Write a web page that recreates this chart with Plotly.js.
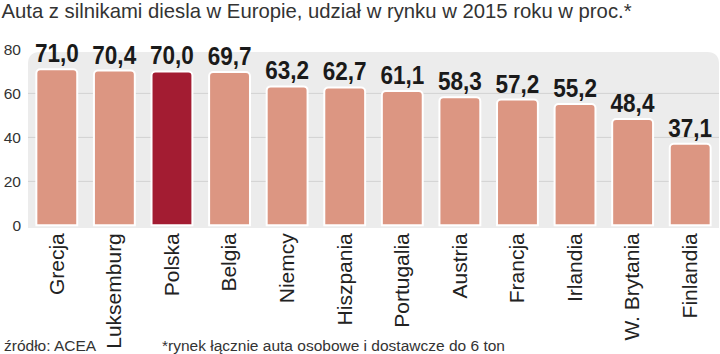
<!DOCTYPE html>
<html>
<head>
<meta charset="utf-8">
<script src="https://cdn.plot.ly/plotly-3.0.1.min.js"></script>
<style>
html,body{margin:0;padding:0;background:#fff;}
#chart{width:720px;height:354px;}
</style>
</head>
<body>
<div id="chart"></div>
<script>
const countries = ["Grecja","Luksemburg","Polska","Belgia","Niemcy","Hiszpania","Portugalia","Austria","Francja","Irlandia","W. Brytania","Finlandia"];
const shares = [71.0,70.4,70.0,69.7,63.2,62.7,61.1,58.3,57.2,55.2,48.4,37.1];
const highlight = "Polska";
const yTicks = [0,20,40,60,80];
const gridValues = [20,40,60];
const titleText = "Auta z silnikami diesla w Europie, udział w rynku w 2015 roku w proc.*";
const sourceText = "źródło: ACEA";
const noteText = "*rynek łącznie auta osobowe i dostawcze do 6 ton";

const baseColor = "#dc9682";
const hiColor = "#a31c32";
const colors = countries.map(c => c === highlight ? hiColor : baseColor);

// layout geometry
const W = 720, H = 354;
const mL = 28, mR = 1, mT = 49, mB = 126;
const pw = W - mL - mR, ph = H - mT - mB;
const yMin = -1.2, yMax = 80.2, bgTop = 78.8;
const pxPerUnit = ph / (yMax - yMin);
const rx = 12 / pw, ry = 12 / pxPerUnit;
const labelSqueeze = 0.85;

const shapes = [{
  type: "path", xref: "paper", yref: "y", layer: "below",
  path: `M 0,${yMin} L 0,${bgTop - ry} Q 0,${bgTop} ${rx},${bgTop} L ${1 - rx},${bgTop} Q 1,${bgTop} 1,${bgTop - ry} L 1,${yMin} Z`,
  fillcolor: "#ececec", line: {width: 0}
}];
gridValues.forEach(v => shapes.push({
  type: "line", xref: "paper", yref: "y", layer: "below",
  x0: 0, x1: 1, y0: v, y1: v, line: {color: "#d2d2d2", width: 1}
}));

const trace = {
  type: "bar",
  x: countries,
  y: shares,
  marker: {color: colors, line: {color: "#ffffff", width: 2}, cornerradius: 4},
  texttemplate: "%{y:.1f}",
  textposition: "outside",
  constraintext: "none",
  cliponaxis: false,
  textfont: {family: "Liberation Sans, Arial, sans-serif", size: 26.5, color: "#1a1a1a", weight: 700},
  hoverinfo: "skip"
};

const layout = {
  width: W, height: H,
  margin: {l: mL, r: mR, t: mT, b: mB, pad: 0},
  paper_bgcolor: "#ffffff",
  plot_bgcolor: "rgba(0,0,0,0)",
  separators: ", ",
  bargap: 0.29,
  showlegend: false,
  title: {
    text: titleText, xref: "container", yref: "container",
    x: 0.002, xanchor: "left", y: 1 - 11 / H, yanchor: "middle",
    font: {family: "Liberation Sans, Arial, sans-serif", size: 20.3, color: "#333333"}
  },
  xaxis: {
    type: "category", tickangle: -90, showgrid: false, zeroline: false, showline: false,
    ticks: "", fixedrange: true,
    tickfont: {family: "Liberation Sans, Arial, sans-serif", size: 21, color: "#222222"}
  },
  yaxis: {
    range: [yMin, yMax], tickvals: yTicks, ticktext: yTicks.map(String),
    showgrid: false, zeroline: false, showline: false, ticks: "",
    ticklabelstandoff: 6, fixedrange: true,
    tickfont: {family: "Liberation Sans, Arial, sans-serif", size: 15.5, color: "#333333"}
  },
  shapes: shapes,
  annotations: [
    {text: sourceText, xref: "paper", yref: "paper", x: (2 - mL) / pw, y: (mT + ph - 345) / ph,
     xanchor: "left", yanchor: "middle", showarrow: false,
     font: {family: "Liberation Sans, Arial, sans-serif", size: 15.5, color: "#333333"}},
    {text: noteText, xref: "paper", yref: "paper", x: (160 - mL) / pw, y: (mT + ph - 345) / ph,
     xanchor: "left", yanchor: "middle", showarrow: false,
     font: {family: "Liberation Sans, Arial, sans-serif", size: 15.5, color: "#333333"}}
  ]
};

Plotly.newPlot("chart", [trace], layout, {displayModeBar: false, staticPlot: true}).then(gd => {
  // condense the value labels horizontally around their anchor (narrow bold look)
  gd.querySelectorAll("text.bartext").forEach(t => {
    const cx = parseFloat(t.getAttribute("x")) || 0;
    const cy = parseFloat(t.getAttribute("y")) || 0;
    const tr = t.getAttribute("transform") || "";
    t.setAttribute("transform", `${tr} translate(${cx} ${cy + 2}) scale(${labelSqueeze} 1) translate(${-cx} ${-cy})`);
  });
});
</script>
</body>
</html>
